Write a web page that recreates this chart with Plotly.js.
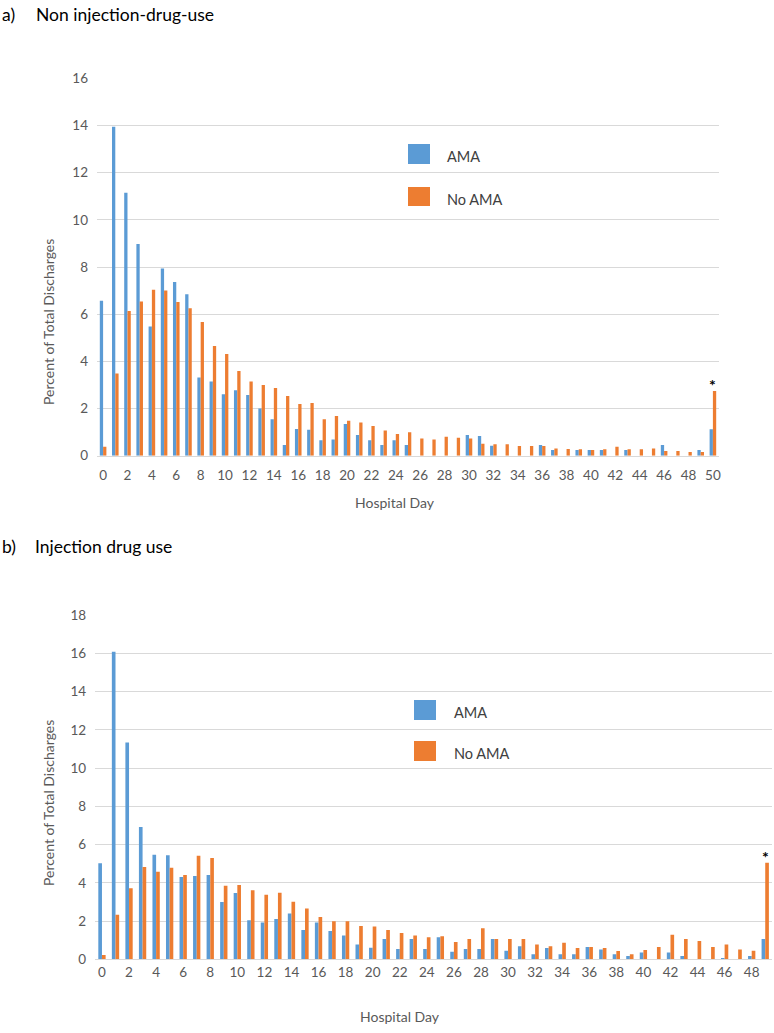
<!DOCTYPE html>
<html>
<head>
<meta charset="utf-8">
<script src="https://cdn.plot.ly/plotly-3.0.1.min.js"></script>
<style>html,body{margin:0;padding:0;background:#fff}#chart{width:774px;height:1033px}</style>
</head>
<body>
<div id="chart"></div>
<script>
// ---- Data ----
const daysA = Array.from({length: 51}, (_, i) => i);           // panel a: hospital days 0..50
const amaA = [6.57,13.95,11.15,8.98,5.48,7.94,7.36,6.84,3.32,3.15,2.61,2.77,2.57,2.0,1.55,0.45,1.13,1.1,0.65,0.69,1.34,0.88,0.65,0.45,0.65,0.45,0,0,0,0,0.88,0.83,0.42,0,0,0,0.45,0.24,0,0.24,0.24,0.24,0,0.24,0,0,0.45,0,0,0.24,1.12];
const noAmaA = [0.38,3.49,6.13,6.54,7.04,7.0,6.52,6.25,5.67,4.65,4.31,3.59,3.15,3.0,2.87,2.53,2.19,2.23,1.55,1.68,1.48,1.41,1.26,1.07,0.92,0.99,0.73,0.69,0.8,0.76,0.73,0.51,0.49,0.49,0.41,0.41,0.41,0.31,0.28,0.27,0.24,0.27,0.38,0.27,0.27,0.31,0.2,0.2,0.16,0.16,2.74];

const daysB = Array.from({length: 50}, (_, i) => i);           // panel b: hospital days 0..49
const amaB = [5.02,16.08,11.34,6.92,5.47,5.44,4.3,4.36,4.41,3.0,3.47,2.04,1.93,2.11,2.4,1.53,1.93,1.48,1.24,0.78,0.61,1.06,0.54,1.06,0.54,1.15,0.4,0.54,0.54,1.06,0.45,0.68,0.26,0.59,0.26,0.26,0.64,0.51,0.26,0.17,0.35,0,0.35,0.17,0,0,0.07,0,0.17,1.06];
const noAmaB = [0.23,2.33,3.71,4.83,4.58,4.79,4.41,5.42,5.3,3.85,3.88,3.61,3.38,3.48,3.01,2.65,2.21,1.99,1.99,1.74,1.71,1.53,1.38,1.24,1.15,1.2,0.91,1.06,1.62,1.06,1.06,1.06,0.77,0.68,0.87,0.59,0.64,0.59,0.44,0.26,0.49,0.64,1.29,1.06,0.96,0.64,0.78,0.51,0.45,5.05];

const seriesNames = ['AMA', 'No AMA'];
const tickValsA = daysA.filter(d => d % 2 === 0);
const tickValsB = daysB.filter(d => d % 2 === 0 && d <= 48);
const panelLetters = ['a)', 'b)'];
const panelTitles = ['Non injection-drug-use', 'Injection drug use'];
const xTitle = 'Hospital Day';
const yTitle = 'Percent of Total Discharges';

// ---- Style ----
const W = 774, H = 1033;
const BLUE = '#5B9BD5', ORANGE = '#ED7D31', GRID = '#D9D9D9', GRAYTXT = '#595959';
const FONT = 'Lato, "Open Sans", sans-serif';
const px = x => x / W;
const py = y => 1 - y / H;

const traces = [
  {type:'bar', x:daysA, y:amaA, name:seriesNames[0], marker:{color:BLUE}, xaxis:'x', yaxis:'y', showlegend:false, hoverinfo:'x+y'},
  {type:'bar', x:daysA, y:noAmaA, name:seriesNames[1], marker:{color:ORANGE}, xaxis:'x', yaxis:'y', showlegend:false, hoverinfo:'x+y'},
  {type:'bar', x:daysB, y:amaB, name:seriesNames[0], marker:{color:BLUE}, xaxis:'x2', yaxis:'y2', showlegend:false, hoverinfo:'x+y'},
  {type:'bar', x:daysB, y:noAmaB, name:seriesNames[1], marker:{color:ORANGE}, xaxis:'x2', yaxis:'y2', showlegend:false, hoverinfo:'x+y'}
];

const xCommon = {
  showgrid:false, zeroline:false, showline:true, linecolor:GRID, linewidth:1,
  ticks:'', tickfont:{family:FONT, size:13.5, color:GRAYTXT}, fixedrange:true
};
const yCommon = {
  showgrid:true, gridcolor:GRID, gridwidth:1, zeroline:false, showline:false,
  ticks:'', dtick:2, tickfont:{family:FONT, size:13.5, color:GRAYTXT}, ticklabelstandoff:8, fixedrange:true
};

const layout = {
  width:W, height:H,
  margin:{l:0, r:0, t:0, b:0},
  paper_bgcolor:'#fff', plot_bgcolor:'#fff',
  barmode:'group', bargap:0.46, bargroupgap:0,
  font:{family:FONT, color:GRAYTXT},
  xaxis: Object.assign({}, xCommon, {domain:[px(97), px(719)], range:[-0.5, 50.5], tickvals:tickValsA, ticktext:tickValsA.map(String), anchor:'y', ticklabelstandoff:7}),
  yaxis: Object.assign({}, yCommon, {domain:[py(455.7), py(78.3)], range:[0,16], anchor:'x'}),
  xaxis2: Object.assign({}, xCommon, {domain:[px(95.2), px(772)], range:[-0.5, 49.5], tickvals:tickValsB, ticktext:tickValsB.map(String), anchor:'y2', ticklabelstandoff:0}),
  yaxis2: Object.assign({}, yCommon, {domain:[py(959.3), py(615)], range:[0,18], anchor:'x2'}),
  shapes: [
    {type:'rect', xref:'paper', yref:'paper', x0:px(408), x1:px(430), y0:py(164), y1:py(144), fillcolor:BLUE, line:{width:0}},
    {type:'rect', xref:'paper', yref:'paper', x0:px(408), x1:px(430), y0:py(206), y1:py(187), fillcolor:ORANGE, line:{width:0}},
    {type:'rect', xref:'paper', yref:'paper', x0:px(414), x1:px(436), y0:py(720), y1:py(700), fillcolor:BLUE, line:{width:0}},
    {type:'rect', xref:'paper', yref:'paper', x0:px(414), x1:px(436), y0:py(761), y1:py(741), fillcolor:ORANGE, line:{width:0}}
  ],
  annotations: [
    {xref:'paper', yref:'paper', x:px(0), y:py(14), xanchor:'left', yanchor:'middle', text:panelLetters[0], showarrow:false, font:{family:FONT, size:17.5, color:'#000'}},
    {xref:'paper', yref:'paper', x:px(34), y:py(14), xanchor:'left', yanchor:'middle', text:panelTitles[0], showarrow:false, font:{family:FONT, size:17.5, color:'#000'}},
    {xref:'paper', yref:'paper', x:px(0), y:py(546), xanchor:'left', yanchor:'middle', text:panelLetters[1], showarrow:false, font:{family:FONT, size:17.5, color:'#000'}},
    {xref:'paper', yref:'paper', x:px(33), y:py(546), xanchor:'left', yanchor:'middle', text:panelTitles[1], showarrow:false, font:{family:FONT, size:17.5, color:'#000'}},
    {xref:'paper', yref:'paper', x:px(395), y:py(502), xanchor:'center', yanchor:'middle', text:xTitle, showarrow:false, font:{family:FONT, size:14, color:GRAYTXT}},
    {xref:'paper', yref:'paper', x:px(400), y:py(1016), xanchor:'center', yanchor:'middle', text:xTitle, showarrow:false, font:{family:FONT, size:14, color:GRAYTXT}},
    {xref:'paper', yref:'paper', x:px(48), y:py(322), xanchor:'center', yanchor:'middle', textangle:-90, text:yTitle, showarrow:false, font:{family:FONT, size:14, color:GRAYTXT}},
    {xref:'paper', yref:'paper', x:px(48), y:py(803), xanchor:'center', yanchor:'middle', textangle:-90, text:yTitle, showarrow:false, font:{family:FONT, size:14, color:GRAYTXT}},
    {xref:'paper', yref:'paper', x:px(445), y:py(156), xanchor:'left', yanchor:'middle', text:seriesNames[0], showarrow:false, font:{family:FONT, size:14.5, color:'#404040'}},
    {xref:'paper', yref:'paper', x:px(445), y:py(199), xanchor:'left', yanchor:'middle', text:seriesNames[1], showarrow:false, font:{family:FONT, size:14.5, color:'#404040'}},
    {xref:'paper', yref:'paper', x:px(452), y:py(712), xanchor:'left', yanchor:'middle', text:seriesNames[0], showarrow:false, font:{family:FONT, size:14.5, color:'#404040'}},
    {xref:'paper', yref:'paper', x:px(452), y:py(753), xanchor:'left', yanchor:'middle', text:seriesNames[1], showarrow:false, font:{family:FONT, size:14.5, color:'#404040'}},
    {xref:'x', yref:'y', x:daysA[daysA.length-1], y:noAmaA[noAmaA.length-1], xanchor:'center', yanchor:'bottom', yshift:-5, text:'<b>*</b>', showarrow:false, font:{family:FONT, size:16, color:'#000'}},
    {xref:'x2', yref:'y2', x:daysB[daysB.length-1], y:noAmaB[noAmaB.length-1], xanchor:'center', yanchor:'bottom', yshift:-5, text:'<b>*</b>', showarrow:false, font:{family:FONT, size:16, color:'#000'}}
  ]
};

Plotly.newPlot('chart', traces, layout, {displayModeBar:false, staticPlot:true});
</script>
</body>
</html>
